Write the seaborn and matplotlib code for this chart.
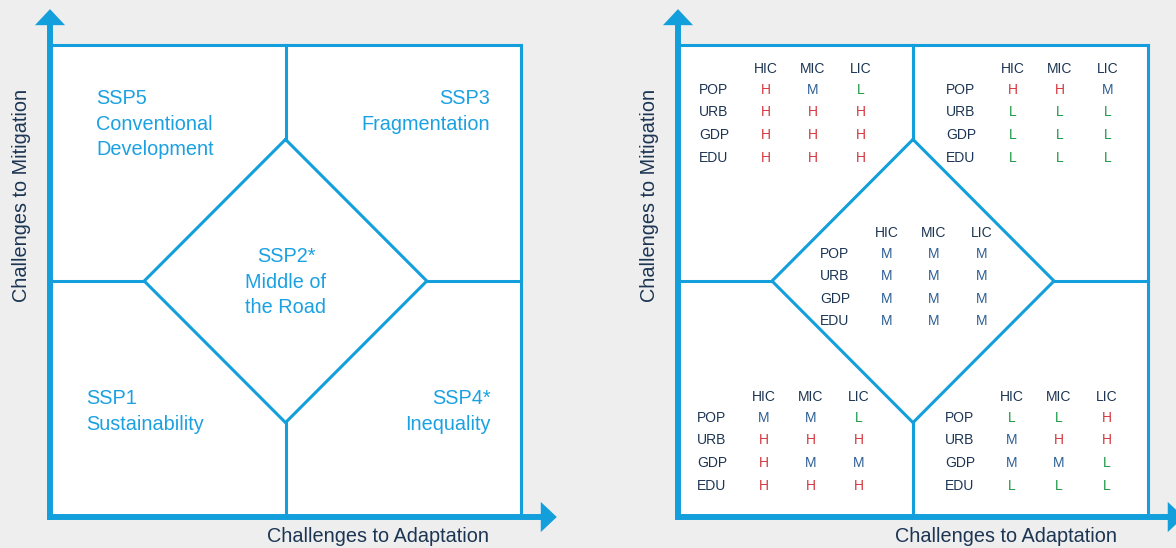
import numpy as np
import pandas as pd
import matplotlib.pyplot as plt
import seaborn as sns

# Scenario labels (left panel)
ssp_labels = {
    "SSP5": ["SSP5", "Conventional", "Development"],
    "SSP3": ["SSP3", "Fragmentation"],
    "SSP2": ["SSP2*", "Middle of", "the Road"],
    "SSP1": ["SSP1", "Sustainability"],
    "SSP4": ["SSP4*", "Inequality"],
}

# Rating tables (right panel)
income_groups = ["HIC", "MIC", "LIC"]
indicators = ["POP", "URB", "GDP", "EDU"]
ssp5_ratings = [["H", "M", "L"], ["H", "H", "H"], ["H", "H", "H"], ["H", "H", "H"]]
ssp3_ratings = [["H", "H", "M"], ["L", "L", "L"], ["L", "L", "L"], ["L", "L", "L"]]
ssp2_ratings = [["M", "M", "M"], ["M", "M", "M"], ["M", "M", "M"], ["M", "M", "M"]]
ssp1_ratings = [["M", "M", "L"], ["H", "H", "H"], ["H", "M", "M"], ["H", "H", "H"]]
ssp4_ratings = [["L", "L", "H"], ["M", "H", "H"], ["M", "M", "L"], ["L", "L", "L"]]

x_label = "Challenges to Adaptation"
y_label = "Challenges to Mitigation"

BLUE = "#139fdc"
TXT_BLUE = "#1ba1e2"
NAVY = "#1c3553"
rating_colors = {"H": "#d53a40", "M": "#2d5f94", "L": "#1e9a48"}
BG = "#eeeeee"

sns.set_theme(style="white", rc={"figure.facecolor": BG, "axes.facecolor": "white"})
plt.rcParams["font.family"] = ["Liberation Sans", "DejaVu Sans"]

fig = plt.figure(figsize=(11.76, 5.48), dpi=100)
W, H = 1176, 548
ax_left = fig.add_axes([50 / W, 31 / H, 471 / W, 472 / H])
ax_right = fig.add_axes([678 / W, 31 / H, 470 / W, 472 / H])

DY = -0.004  # small downward nudge for text


def draw_frame(ax):
    ax.set_xlim(0, 1)
    ax.set_ylim(0, 1)
    ax.axis("off")
    ax.add_patch(plt.Rectangle((0, 0), 1, 1, color="white", zorder=0, clip_on=False))
    kw = dict(color=BLUE, lw=2.2, clip_on=False, solid_capstyle="projecting")
    # box top/right
    ax.plot([0, 1], [1, 1], **kw)
    ax.plot([1, 1], [0, 1], **kw)
    # diamond
    ax.plot([0.5, 0.8, 0.5, 0.2, 0.5], [0.8, 0.5, 0.2, 0.5, 0.8], color=BLUE, lw=2.2,
            clip_on=False, solid_joinstyle="miter")
    # dividers
    ax.plot([0.5, 0.5], [0.8, 1], **kw)
    ax.plot([0.5, 0.5], [0, 0.2], **kw)
    ax.plot([0, 0.2], [0.5, 0.5], **kw)
    ax.plot([0.8, 1], [0.5, 0.5], **kw)
    # axes with arrow heads
    akw = dict(color=BLUE, lw=4.3, clip_on=False, solid_capstyle="projecting")
    tip, hl, hw = 1.076, 0.034, 0.032
    ax.plot([0, 0], [0, tip - hl], **akw)
    ax.plot([0, tip - hl], [0, 0], **akw)
    ax.fill([-hw, hw, 0], [tip - hl, tip - hl, tip], color=BLUE, clip_on=False, lw=0)
    ax.fill([tip - hl, tip - hl, tip], [-hw, hw, 0], color=BLUE, clip_on=False, lw=0)
    ax.text(0.697, -0.042, x_label, ha="center", va="center", fontsize=14.3, color=NAVY)
    ax.text(-0.060, 0.682, y_label, ha="center", va="center", rotation=90,
            fontsize=14.3, color=NAVY)


draw_frame(ax_left)
draw_frame(ax_right)

# left panel text blocks
step = 25.5 / 472
blocks = [
    ("SSP5", 0.098, 0.890, "left"),
    ("SSP3", 0.934, 0.890, "right"),
    ("SSP2", 0.501, 0.555, "center"),
    ("SSP1", 0.076, 0.254, "left"),
    ("SSP4", 0.936, 0.254, "right"),
]
for key, x, y0, ha in blocks:
    for i, line in enumerate(ssp_labels[key]):
        ax_left.text(x, y0 + DY - i * step, line, ha=ha, va="center", fontsize=14.3,
                     color=TXT_BLUE)


# right panel tables
def draw_table(ax, left, header_y, ratings):
    col_off = [0.142, 0.242, 0.344]
    row_step = 22.6 / 472
    header_y += DY / 2
    for j, g in enumerate(income_groups):
        ax.text(left + col_off[j], header_y, g, ha="center", va="center",
                fontsize=10, color=NAVY)
    for i, ind in enumerate(indicators):
        y = header_y - 0.044 - i * row_step
        ax.text(left, y, ind, ha="left", va="center", fontsize=10, color=NAVY)
        for j, r in enumerate(ratings[i]):
            ax.text(left + col_off[j], y, r, ha="center", va="center",
                    fontsize=10, color=rating_colors[r])


draw_table(ax_right, 0.045, 0.951, ssp5_ratings)
draw_table(ax_right, 0.570, 0.951, ssp3_ratings)
draw_table(ax_right, 0.302, 0.604, ssp2_ratings)
draw_table(ax_right, 0.040, 0.256, ssp1_ratings)
draw_table(ax_right, 0.568, 0.256, ssp4_ratings)

fig.savefig("out.png", dpi=100, facecolor=BG)
